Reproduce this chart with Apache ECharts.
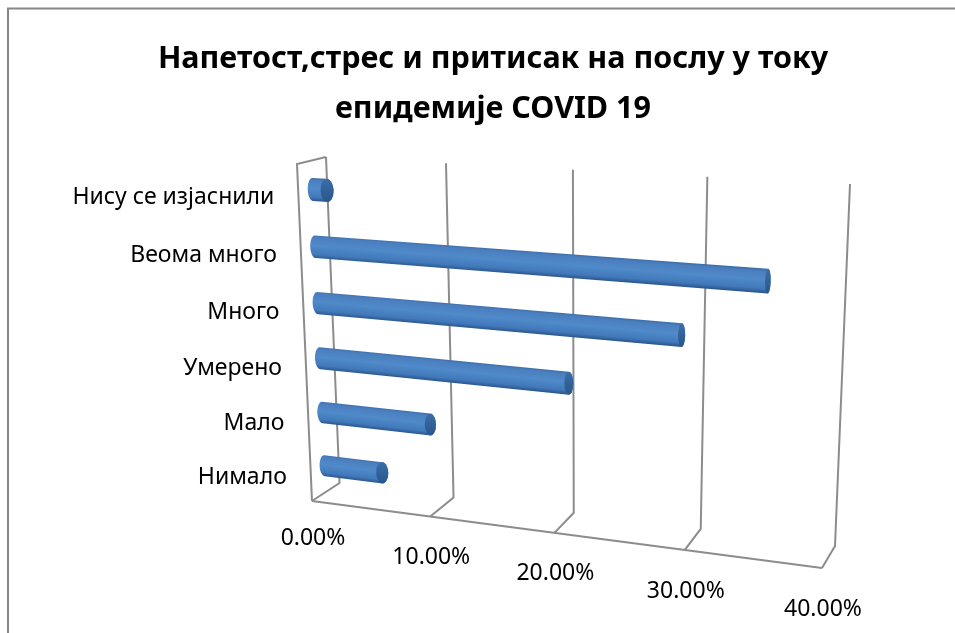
<!DOCTYPE html>
<html>
<head>
<meta charset="utf-8">
<script src="https://cdn.jsdelivr.net/npm/echarts@6/dist/echarts.min.js"></script>
<style>
html, body { margin: 0; padding: 0; background: #fff; }
#main { width: 955px; height: 633px; }
</style>
</head>
<body>
<div id="main"></div>
<script>
// top to bottom, as in the picture
var categories = ['Нису се изјаснили', 'Веома много', 'Много', 'Умерено', 'Мало', 'Нимало'];
var percentValues = [1.2, 35, 28.9, 20.4, 9.2, 5];
var valueTicks = [0, 10, 20, 30, 40];
var tickLabels = ['0.00%', '10.00%', '20.00%', '30.00%', '40.00%'];
var titleLines = ['Напетост,стрес и притисак на послу у току', 'епидемије COVID 19'];

var FONT = '"Noto Sans", sans-serif';
var TEXT_COLOR = '#000';
var WALL_COLOR = '#8c8c8c';

// corners of the 3d box as Excel drew it: tl, tr, br, bl
var backCorners = [[326, 157], [850, 184], [835, 546], [339.5, 483]];
var frontCorners = [[297, 164], [838, 198], [822, 568], [312, 501]];
var midCorners = backCorners.map(function(p, i) {
    return [(p[0] + frontCorners[i][0]) / 2, (p[1] + frontCorners[i][1]) / 2];
});

// unit square -> quad, plain projective mapping
function makeProjection(q) {
    var dx1 = q[1][0] - q[2][0], dx2 = q[3][0] - q[2][0], sx = q[0][0] - q[1][0] + q[2][0] - q[3][0];
    var dy1 = q[1][1] - q[2][1], dy2 = q[3][1] - q[2][1], sy = q[0][1] - q[1][1] + q[2][1] - q[3][1];
    var det = dx1 * dy2 - dx2 * dy1;
    var g = (sx * dy2 - dx2 * sy) / det;
    var h = (dx1 * sy - sx * dy1) / det;
    var a = q[1][0] - q[0][0] + g * q[1][0];
    var b = q[3][0] - q[0][0] + h * q[3][0];
    var d = q[1][1] - q[0][1] + g * q[1][1];
    var e = q[3][1] - q[0][1] + h * q[3][1];
    return function(u, v) {
        var w = g * u + h * v + 1;
        return [(a * u + b * v + q[0][0]) / w, (d * u + e * v + q[0][1]) / w];
    };
}
var back = makeProjection(backCorners);
var front = makeProjection(frontCorners);
var mid = makeProjection(midCorners);

// the hidden grid is 100x100 at the origin, its pixels are the u,v of the box
function toUnit(api, val, cat) {
    var c = api.coord([val, cat]);
    return [c[0] / 100, c[1] / 100];
}

function wallLine(pts) {
    return {
        type: 'polyline',
        shape: { points: pts },
        style: { stroke: WALL_COLOR, lineWidth: 2, fill: null },
        silent: true
    };
}

function renderWall(params, api) {
    var u = toUnit(api, api.value(0), 0)[0];
    var children = [wallLine([front(u, 1), back(u, 1), back(u, 0)])];
    if (params.dataIndex === 0) {
        // left wall and the front edge of the floor
        children.push(wallLine([front(u, 1), front(u, 0), back(u, 0)]));
        var lastU = toUnit(api, valueTicks[valueTicks.length - 1], 0)[0];
        children.push(wallLine([front(u, 1), front(lastU, 1)]));
    }
    return { type: 'group', children: children };
}

function ellipseArc(cx, cy, rx, ry, tilt, from, to) {
    var out = [], n = 14;
    for (var i = 0; i <= n; i++) {
        var a = from + (to - from) * i / n;
        var ex = rx * Math.cos(a), ey = ry * Math.sin(a);
        out.push([cx + ex * Math.cos(tilt) - ey * Math.sin(tilt), cy + ex * Math.sin(tilt) + ey * Math.cos(tilt)]);
    }
    return out;
}

function renderBar(params, api) {
    var val = api.value(0), cat = api.value(1);
    var v0 = toUnit(api, 0, cat), v1 = toUnit(api, val, cat);
    var halfBand = api.size([0, 1])[1] / 100 * 0.2;
    var startTop = mid(0, v0[1] - halfBand), startBot = mid(0, v0[1] + halfBand);
    var endTop = mid(v1[0], v1[1] - halfBand), endBot = mid(v1[0], v1[1] + halfBand);
    var sc = [(startTop[0] + startBot[0]) / 2, (startTop[1] + startBot[1]) / 2];
    var ec = [(endTop[0] + endBot[0]) / 2, (endTop[1] + endBot[1]) / 2];
    var sry = Math.abs(startBot[1] - startTop[1]) / 2, ery = Math.abs(endBot[1] - endTop[1]) / 2;
    // cap gets thinner the further right it is
    var srx = 5, erx = Math.max(2.6, 6.6 - (ec[0] - 320) * 0.0085);
    var sTilt = Math.atan2(startTop[0] - startBot[0], startBot[1] - startTop[1]);
    var eTilt = Math.atan2(endTop[0] - endBot[0], endBot[1] - endTop[1]);

    var body = ellipseArc(sc[0], sc[1], srx, sry, sTilt, Math.PI / 2, Math.PI * 1.5)
        .concat(ellipseArc(ec[0], ec[1], erx, ery, eTilt, -Math.PI / 2, Math.PI / 2));

    // shading runs across the cylinder, so the gradient is normal to its axis
    var dx = ec[0] - sc[0], dy = ec[1] - sc[1], len = Math.sqrt(dx * dx + dy * dy);
    var nx = -dy / len, ny = dx / len, h = (sry + ery) / 2;
    var mx = (sc[0] + ec[0]) / 2, my = (sc[1] + ec[1]) / 2;
    var bodyFill = new echarts.graphic.LinearGradient(
        mx - nx * h, my - ny * h, mx + nx * h, my + ny * h, [
            { offset: 0, color: '#3d6ea9' },
            { offset: 0.1, color: '#4a7ebf' },
            { offset: 0.45, color: '#508ac9' },
            { offset: 0.82, color: '#4179ba' },
            { offset: 1, color: '#2b568c' }
        ], true);
    var capFill = new echarts.graphic.LinearGradient(
        ec[0], ec[1] - ery, ec[0], ec[1] + ery, [
            { offset: 0, color: '#3a6da8' },
            { offset: 1, color: '#2a5689' }
        ], true);
    return {
        type: 'group',
        children: [{
            type: 'polygon',
            shape: { points: body },
            style: { fill: bodyFill }
        }, {
            type: 'polygon',
            shape: { points: ellipseArc(ec[0], ec[1], erx, ery, eTilt, 0, Math.PI * 2) },
            style: { fill: capFill }
        }]
    };
}

function renderCategoryLabel(params, api) {
    var v = toUnit(api, 0, api.value(0))[1];
    var p = front(0, v);
    return {
        type: 'text',
        style: {
            text: categories[params.dataIndex],
            x: p[0] - 24,
            y: p[1] + 3.5,
            align: 'right',
            verticalAlign: 'middle',
            fill: TEXT_COLOR,
            font: '23px ' + FONT
        }
    };
}

function renderTickLabel(params, api) {
    var u = toUnit(api, api.value(0), 0)[0];
    var p = front(u, 1);
    return {
        type: 'text',
        style: {
            text: tickLabels[params.dataIndex],
            x: p[0] + 1,
            y: p[1] + (params.dataIndex === 0 ? 37 : 41),
            align: 'center',
            verticalAlign: 'middle',
            fill: TEXT_COLOR,
            font: '23px ' + FONT
        }
    };
}

var chart = echarts.init(document.getElementById('main'), null, { renderer: 'canvas' });
chart.setOption({
    animation: false,
    backgroundColor: '#fff',
    title: {
        text: titleLines.join('\n'),
        left: 488,
        top: 29,
        textAlign: 'center',
        textStyle: { fontFamily: FONT, fontWeight: 'bold', fontSize: 30.5, lineHeight: 50, color: TEXT_COLOR }
    },
    graphic: [{
        type: 'polyline',
        shape: { points: [[8, 640], [8, 8.5], [960, 8.5]] },
        style: { stroke: '#868686', lineWidth: 2, fill: null },
        silent: true
    }],
    grid: { left: 0, top: 0, width: 100, height: 100, containLabel: false },
    xAxis: { type: 'value', min: 0, max: 40, interval: 10, show: false },
    yAxis: { type: 'category', data: categories, inverse: true, show: false },
    series: [{
        type: 'custom',
        renderItem: renderWall,
        data: valueTicks.map(function(t) { return [t]; }),
        encode: { x: 0 },
        clip: false,
        z: 1
    }, {
        type: 'custom',
        renderItem: renderBar,
        data: percentValues.map(function(val, i) { return [val, i]; }),
        encode: { x: 0, y: 1 },
        clip: false,
        z: 2
    }, {
        type: 'custom',
        renderItem: renderCategoryLabel,
        data: categories.map(function(c, i) { return [i]; }),
        encode: { y: 0 },
        clip: false,
        z: 3
    }, {
        type: 'custom',
        renderItem: renderTickLabel,
        data: valueTicks.map(function(t) { return [t]; }),
        encode: { x: 0 },
        clip: false,
        z: 3
    }]
});
</script>
</body>
</html>
